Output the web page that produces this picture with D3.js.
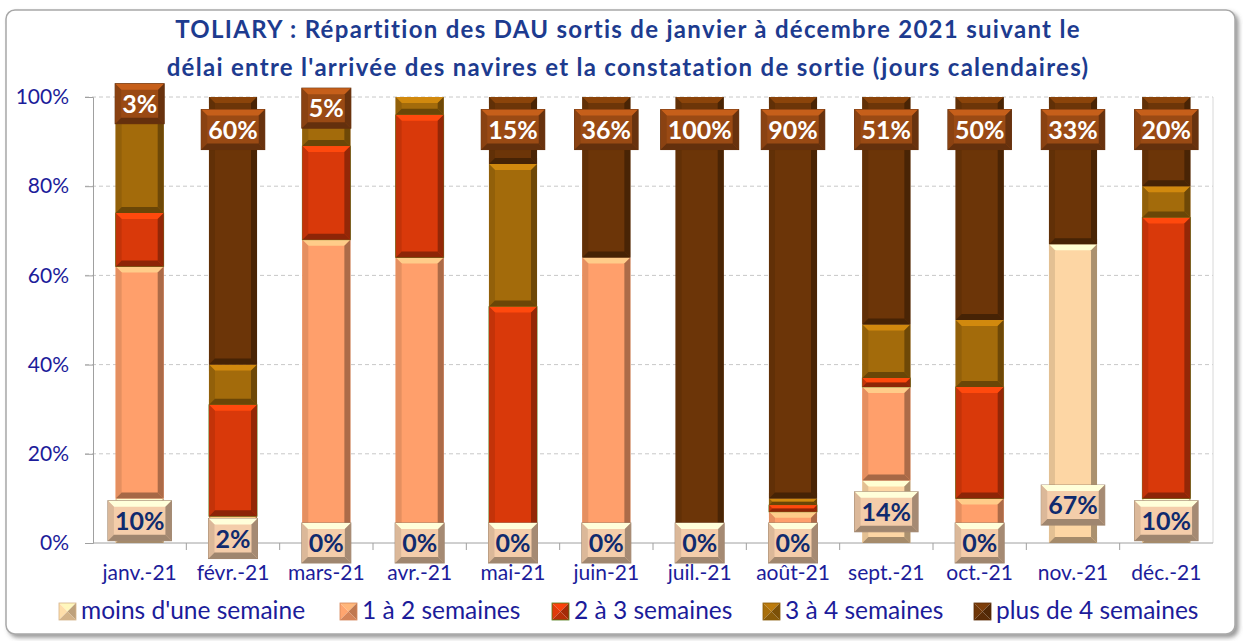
<!DOCTYPE html>
<html>
<head>
<meta charset="utf-8">
<script src="https://cdn.jsdelivr.net/npm/d3@7"></script>
<style>
  body { margin: 0; background: #fff; }
  svg { display: block; }
</style>
</head>
<body>
<div id="chart"></div>
<script>
// data (percent of DAU per month)
const months = ["janv.-21", "févr.-21", "mars-21", "avr.-21", "mai-21", "juin-21",
  "juil.-21", "août-21", "sept.-21", "oct.-21", "nov.-21", "déc.-21"];
const seriesNames = ["moins d'une semaine", "1 à 2 semaines", "2 à 3 semaines",
  "3 à 4 semaines", "plus de 4 semaines"];
const moinsUneSemaine = [10, 2, 0, 0, 0, 0, 0, 0, 14, 0, 67, 10];
const unADeuxSemaines = [52, 4, 68, 64, 0, 64, 0, 7, 21, 10, 0, 0];
const deuxATroisSemaines = [12, 25, 21, 32, 53, 0, 0, 1.5, 2, 25, 0, 63];
const troisAQuatreSemaines = [23, 9, 6, 4, 32, 0, 0, 1.5, 12, 15, 0, 7];
const plusDeQuatreSemaines = [3, 60, 5, 0, 15, 36, 100, 90, 51, 50, 33, 20];
const yTicks = [0, 20, 40, 60, 80, 100];

const colors = ["#FDD6A4", "#FF9F6B", "#D9390A", "#A36B0B", "#6C3508"];

const width = 1243, height = 641;
const margin = { top: 97, right: 30, bottom: 98, left: 93 };

const rows = months.map((m, i) => ({
  month: m,
  s0: moinsUneSemaine[i],
  s1: unADeuxSemaines[i],
  s2: deuxATroisSemaines[i],
  s3: troisAQuatreSemaines[i],
  s4: plusDeQuatreSemaines[i]
}));
const keys = ["s0", "s1", "s2", "s3", "s4"];
const stacked = d3.stack().keys(keys)(rows);

const svg = d3.select("#chart").append("svg")
  .attr("width", width)
  .attr("height", height)
  .style("font-family", "Lato, 'Open Sans', sans-serif");

// frame with shadow
const defs = svg.append("defs");
const sh = defs.append("filter").attr("id", "shadow")
  .attr("x", "-5%").attr("y", "-5%").attr("width", "110%").attr("height", "110%");
sh.append("feDropShadow").attr("dx", 3).attr("dy", 3).attr("stdDeviation", 2)
  .attr("flood-color", "#555").attr("flood-opacity", 0.6);

svg.append("rect")
  .attr("x", 6).attr("y", 10)
  .attr("width", 1229).attr("height", 624)
  .attr("rx", 9)
  .attr("fill", "#fff")
  .attr("stroke", "#a8a8a8")
  .attr("stroke-width", 1.5)
  .attr("filter", "url(#shadow)");

// title
const title = svg.append("text")
  .attr("text-anchor", "middle")
  .attr("font-weight", "bold")
  .attr("font-size", "24px")
  .attr("letter-spacing", "1.3px")
  .attr("fill", "#1d3b8f");
title.append("tspan").attr("x", 628).attr("y", 38)
  .text("TOLIARY : Répartition des DAU sortis de janvier à décembre 2021 suivant le");
title.append("tspan").attr("x", 628).attr("y", 76)
  .text("délai entre l'arrivée des navires et la constatation de sortie (jours calendaires)");

const x = d3.scaleBand()
  .domain(months)
  .range([margin.left, width - margin.right])
  .paddingInner(0.485)
  .paddingOuter(0.2425);

const y = d3.scaleLinear()
  .domain([0, 100])
  .range([height - margin.bottom, margin.top]);

// gridlines
svg.append("g")
  .selectAll("line")
  .data(yTicks.filter(d => d > 0))
  .join("line")
  .attr("x1", margin.left - 8)
  .attr("x2", width - margin.right)
  .attr("y1", d => y(d))
  .attr("y2", d => y(d))
  .attr("stroke", "#c8c8c8")
  .attr("stroke-dasharray", "4,3");

svg.append("line")
  .attr("x1", width - margin.right).attr("x2", width - margin.right)
  .attr("y1", y(100)).attr("y2", y(0))
  .attr("stroke", "#d8d8d8");

// y axis
const yAxis = svg.append("g")
  .attr("transform", `translate(${margin.left},0)`)
  .call(d3.axisLeft(y).tickValues(yTicks).tickFormat(d => d + "%").tickSize(8).tickPadding(16));
yAxis.select(".domain").attr("stroke", "#a0a0a0");
yAxis.selectAll(".tick line").attr("stroke", "#a0a0a0");
yAxis.selectAll("text").attr("font-size", "21px").attr("fill", "#1c1c9a")
  .attr("font-family", "Lato, sans-serif");

// x axis with ticks between categories
const xAxisG = svg.append("g")
  .attr("transform", `translate(0,${y(0)})`);
xAxisG.append("line")
  .attr("x1", margin.left).attr("x2", width - margin.right)
  .attr("stroke", "#a0a0a0");
xAxisG.selectAll(".sep")
  .data(months.slice(1))
  .join("line")
  .attr("class", "sep")
  .attr("x1", d => x(d) - x.step() * x.paddingInner() / 2)
  .attr("x2", d => x(d) - x.step() * x.paddingInner() / 2)
  .attr("y1", 0).attr("y2", 7)
  .attr("stroke", "#a0a0a0");
xAxisG.selectAll(".lbl")
  .data(months)
  .join("text")
  .attr("class", "lbl")
  .attr("x", d => x(d) + x.bandwidth() / 2)
  .attr("y", 37)
  .attr("text-anchor", "middle")
  .attr("font-size", "21px")
  .attr("fill", "#1c1c9a")
  .text(d => d);

// bevelled block
function bevel(g, bx, by, w, h, color, stroke) {
  const c = d3.color(color);
  g.append("rect")
    .attr("x", bx).attr("y", by).attr("width", w).attr("height", h)
    .attr("fill", color)
    .attr("stroke", stroke || "none")
    .attr("stroke-width", 0.8);
  if (h < 1.5) return;
  const b = Math.min(6, h / 2, w / 2);
  const poly = (pts, fill) => g.append("polygon")
    .attr("points", pts.map(p => p.join(",")).join(" "))
    .attr("fill", fill);
  poly([[bx, by], [bx + w, by], [bx + w - b, by + b], [bx + b, by + b]], c.brighter(0.7));
  poly([[bx, by], [bx + b, by + b], [bx + b, by + h - b], [bx, by + h]], c.darker(0.3));
  poly([[bx + w, by], [bx + w - b, by + b], [bx + w - b, by + h - b], [bx + w, by + h]], c.darker(1.1));
  poly([[bx, by + h], [bx + w, by + h], [bx + w - b, by + h - b], [bx + b, by + h - b]], c.darker(1.2));
}

// bars
const barsG = svg.append("g");
stacked.forEach((layer, li) => {
  layer.forEach(d => {
    const h = y(d[0]) - y(d[1]);
    if (h <= 0) return;
    bevel(barsG, x(d.data.month), y(d[1]), x.bandwidth(), h, colors[li],
      li === 2 ? "#4f7a16" : null);
  });
});

// data labels
const labelsG = svg.append("g");
function labelBox(cx, cy, txt, fill, textColor) {
  const g = labelsG.append("g");
  const t = g.append("text")
    .attr("x", cx).attr("y", cy + 9)
    .attr("text-anchor", "middle")
    .attr("font-size", "25px")
    .attr("font-weight", "bold")
    .attr("fill", textColor)
    .text(txt);
  const tw = t.node().getComputedTextLength();
  const bw = tw + 14, bh = 40;
  const box = g.insert("g", "text");
  bevel(box, cx - bw / 2, cy - bh / 2, bw, bh, fill);
  box.select("rect").attr("stroke", d3.color(fill).darker(1.2)).attr("stroke-width", 1);
}

rows.forEach(r => {
  const cx = x(r.month) + x.bandwidth() / 2;
  // bottom: moins d'une semaine
  labelBox(cx, y(Math.min(r.s0 / 2, 8.5)), r.s0 + "%", "#F4CDAA", "#0f2a6e");
  // top: plus de 4 semaines
  if (r.s4 > 0) {
    labelBox(cx, y(100 - Math.min(r.s4 / 2, 7.3)), r.s4 + "%", "#9A4A14", "#ffffff");
  }
});

// legend
const legendX = [59, 340, 552, 763, 974];
const legend = svg.append("g");
seriesNames.forEach((name, i) => {
  const g = legend.append("g").attr("transform", `translate(${legendX[i]},603)`);
  const s = 17, c = d3.color(colors[i]);
  const tri = (pts, fill) => g.append("polygon")
    .attr("points", pts.map(p => p.join(",")).join(" ")).attr("fill", fill);
  tri([[0, 0], [s, 0], [s / 2, s / 2]], c.brighter(0.4));
  tri([[0, 0], [0, s], [s / 2, s / 2]], c.brighter(0.1));
  tri([[s, 0], [s, s], [s / 2, s / 2]], c.darker(0.8));
  tri([[0, s], [s, s], [s / 2, s / 2]], c.darker(0.5));
  g.append("rect").attr("width", s).attr("height", s).attr("fill", "none")
    .attr("stroke", i === 2 ? "#4f7a16" : c.darker(0.5)).attr("stroke-width", 0.8);
  g.append("text")
    .attr("x", s + 5).attr("y", 16)
    .attr("font-size", "24.5px")
    .attr("fill", "#1c1c9a")
    .text(name);
});
</script>
</body>
</html>
